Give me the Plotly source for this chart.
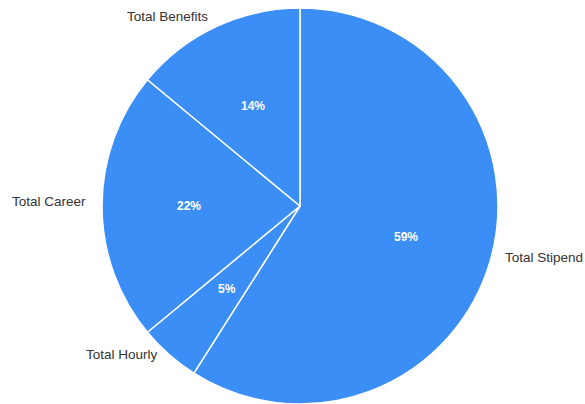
import numpy as np
import plotly.graph_objects as go

categories = ["Total Stipend", "Total Hourly", "Total Career", "Total Benefits"]
shares = [59, 5, 22, 14]

BLUE = "#3a8ef6"
FONT = "Liberation Sans, Arial, sans-serif"

W, H = 585, 404
CX, R = 300, 198          # pie centre x and radius in px
TOP = 8                    # px gap above the pie

dom_x = [(CX - R) / W, (CX + R) / W]
dom_y = [0, 1 - TOP / H]

fig = go.Figure()

fig.add_trace(go.Pie(
    labels=categories,
    values=shares,
    sort=False,
    direction="clockwise",
    rotation=0,
    domain=dict(x=dom_x, y=dom_y),
    marker=dict(colors=[BLUE] * len(categories), line=dict(color="white", width=1.5)),
    textinfo="none",
    showlegend=False,
    hoverinfo="label+percent",
))

# slice mid-angles (clockwise from 12 o'clock) for the text labels
vals = np.array(shares, dtype=float)
frac = vals / vals.sum()
mid = (np.cumsum(frac) - frac / 2) * 2 * np.pi
ux, uy = np.sin(mid), np.cos(mid)

annotations = []
for name, f, x, y in zip(categories, frac, ux, uy):
    # percentage inside the slice
    annotations.append(dict(
        x=0.56 * x, y=0.56 * y, xref="x", yref="y",
        text=f"{round(f * 100)}%", showarrow=False,
        font=dict(family=FONT, size=12, color="white", weight="bold"),
    ))
    # category name outside the pie
    annotations.append(dict(
        x=1.07 * x, y=1.03 * y + 0.025, xref="x", yref="y",
        text=name, showarrow=False,
        xanchor="left" if x > 0 else "right",
        font=dict(family=FONT, size=13.5, color="#333333"),
    ))

fig.update_layout(
    width=W,
    height=H,
    margin=dict(l=0, r=0, t=0, b=0),
    paper_bgcolor="white",
    plot_bgcolor="rgba(0,0,0,0)",
    font=dict(family=FONT),
    # x axis spans the full width, 1 unit = pie radius
    xaxis=dict(domain=[0, 1], range=[-CX / R, (W - CX) / R], visible=False, fixedrange=True),
    yaxis=dict(domain=dom_y, range=[-1, 1], visible=False, fixedrange=True),
    annotations=annotations,
)

fig.write_html(
    "out.html",
    config={"displayModeBar": False},
    post_script="document.body.style.margin='0';",
)
